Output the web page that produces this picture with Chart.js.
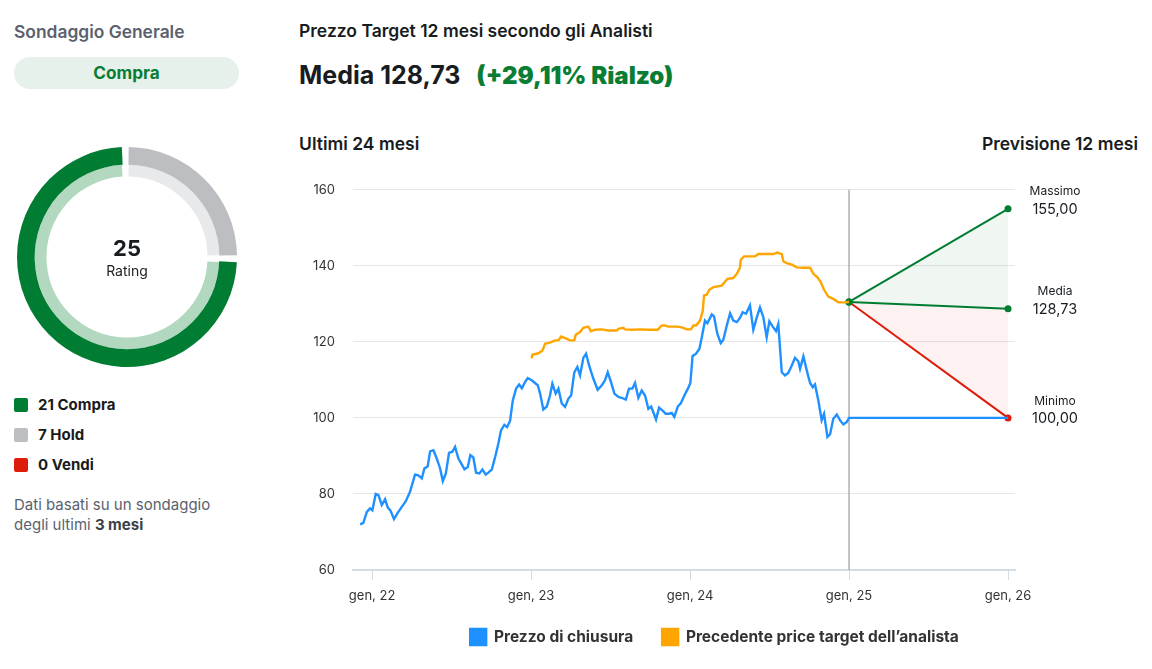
<!DOCTYPE html>
<html lang="it">
<head>
<meta charset="utf-8">
<title>Prezzo Target</title>
<script src="https://cdn.jsdelivr.net/npm/chart.js@4.4.1/dist/chart.umd.min.js"></script>
<style>
  body { margin: 0; background: #fff; font-family: Inter, "Noto Sans", sans-serif; color: #181c21; }
  .abs { position: absolute; white-space: nowrap; }
  .h-left { left: 14px; top: 21px; font-size: 17.4px; font-weight: 600; color: #5b616e; }
  .pill { left: 14px; top: 57px; width: 225px; height: 32px; border-radius: 16px; background: #e5f1ea;
          color: #0a7d35; font-weight: 700; font-size: 17.2px; text-align: center; line-height: 32px; }
  .donut { left: 17px; top: 147px; width: 220px; height: 220px; }
  .center { left: 17px; width: 220px; text-align: center; }
  .leg { left: 14px; font-size: 15px; font-weight: 700; color: #1a1a1a; }
  .leg span { display: inline-block; width: 14px; height: 14px; border-radius: 2px; vertical-align: -2px; margin-right: 10px; }
  .foot { left: 14px; font-size: 15px; color: #5b616e; line-height: 20px; }
  .title { left: 299px; top: 20px; font-size: 17.5px; font-weight: 600; }
  .media { left: 299px; top: 60px; font-size: 25px; font-weight: 700; }
  .media b { color: #0a7d35; margin-left: 10px; font-size: 24px; }
  .sub { top: 133px; font-size: 17.5px; font-weight: 600; }
  .line { left: 290px; top: 164px; width: 860px; height: 501px; }
</style>
</head>
<body>
<div class="abs h-left">Sondaggio Generale</div>
<div class="abs pill">Compra</div>
<div class="abs donut"><canvas id="ratingChart"></canvas></div>
<div class="abs center" style="top:235px;font-size:22px;font-weight:700;">25</div>
<div class="abs center" style="top:262px;font-size:14px;color:#222;">Rating</div>
<div class="abs leg" style="top:395px;"><span style="background:#007d32"></span>21 Compra</div>
<div class="abs leg" style="top:425px;"><span style="background:#bdbec2"></span>7 Hold</div>
<div class="abs leg" style="top:455px;"><span style="background:#dd1c0a"></span>0 Vendi</div>
<div class="abs foot" style="top:495px;">Dati basati su un sondaggio<br>degli ultimi <b style="color:#3b3f47">3 mesi</b></div>

<div class="abs title">Prezzo Target 12 mesi secondo gli Analisti</div>
<div class="abs media">Media 128,73 <b>(+29,11% Rialzo)</b></div>
<div class="abs sub" style="left:299px;">Ultimi 24 mesi</div>
<div class="abs sub" style="right:14px;">Previsione 12 mesi</div>
<div class="abs line"><canvas id="targetChart"></canvas></div>

<script>
// Rating survey
const ratingLabels = ['Compra', 'Hold', 'Vendi'];
const ratingCounts = [21, 7, 0];

// Closing price (x = date as decimal year)
const priceX = [2021.925, 2021.945, 2021.967, 2021.987, 2022.002, 2022.023, 2022.040, 2022.061, 2022.082, 2022.099,
  2022.115, 2022.138, 2022.159, 2022.187, 2022.212, 2022.239, 2022.270, 2022.291, 2022.313, 2022.329,
  2022.350, 2022.365, 2022.386, 2022.407, 2022.428, 2022.445, 2022.464, 2022.484, 2022.505, 2022.522,
  2022.543, 2022.564, 2022.581, 2022.602, 2022.618, 2022.637, 2022.654, 2022.675, 2022.694, 2022.715,
  2022.731, 2022.753, 2022.774, 2022.794, 2022.811, 2022.832, 2022.849, 2022.868, 2022.885, 2022.906,
  2022.925, 2022.942, 2022.962, 2022.979, 2023.004, 2023.042, 2023.057, 2023.077, 2023.099, 2023.119,
  2023.134, 2023.155, 2023.172, 2023.193, 2023.214, 2023.235, 2023.252, 2023.272, 2023.291, 2023.308,
  2023.329, 2023.346, 2023.365, 2023.392, 2023.419, 2023.445, 2023.465, 2023.482, 2023.503, 2023.524,
  2023.549, 2023.570, 2023.596, 2023.616, 2023.637, 2023.654, 2023.675, 2023.696, 2023.717, 2023.738,
  2023.755, 2023.769, 2023.786, 2023.805, 2023.826, 2023.847, 2023.868, 2023.885, 2023.901, 2023.923,
  2023.943, 2023.964, 2023.989, 2024.002, 2024.016, 2024.038, 2024.059, 2024.074, 2024.094, 2024.109,
  2024.137, 2024.151, 2024.172, 2024.193, 2024.209, 2024.231, 2024.252, 2024.272, 2024.294, 2024.314,
  2024.331, 2024.352, 2024.377, 2024.398, 2024.419, 2024.440, 2024.461, 2024.482, 2024.499, 2024.520,
  2024.541, 2024.555, 2024.577, 2024.597, 2024.618, 2024.640, 2024.660, 2024.681, 2024.692, 2024.713,
  2024.734, 2024.755, 2024.772, 2024.786, 2024.807, 2024.828, 2024.843, 2024.864, 2024.881, 2024.901,
  2024.923, 2024.943, 2024.964, 2024.985, 2025.000, 2026.000];
const priceY = [72.0, 72.4, 75.3, 76.2, 75.7, 80.0, 79.7, 77.1, 78.6, 76.4,
  75.7, 73.4, 74.9, 76.6, 78.1, 80.6, 85.1, 84.9, 84.1, 86.7,
  87.3, 91.2, 91.5, 89.3, 86.7, 83.4, 85.4, 90.8, 91.1, 92.4,
  89.3, 87.8, 86.5, 87.1, 90.2, 89.6, 85.6, 85.4, 86.4, 85.1,
  85.6, 86.4, 89.7, 93.2, 96.7, 98.2, 97.6, 99.2, 104.6, 107.7,
  108.8, 107.8, 109.4, 110.5, 109.9, 108.6, 106.4, 102.2, 103.0, 105.9,
  109.0, 106.4, 107.7, 103.8, 102.9, 105.1, 105.9, 112.0, 113.4, 111.2,
  115.8, 116.9, 113.8, 110.3, 107.4, 108.6, 109.9, 112.0, 109.4, 106.4,
  105.5, 105.3, 104.8, 107.7, 107.7, 109.2, 105.3, 107.2, 105.9, 102.4,
  103.0, 101.5, 99.6, 102.7, 102.0, 101.1, 101.1, 101.3, 100.3, 103.0,
  103.9, 105.9, 107.9, 109.2, 116.3, 116.9, 118.2, 121.2, 125.6, 124.9,
  127.2, 126.7, 122.1, 119.7, 120.5, 124.3, 127.5, 125.6, 125.2, 126.3,
  127.8, 127.4, 129.6, 123.2, 126.3, 129.1, 126.5, 121.2, 125.4, 124.0,
  122.8, 124.7, 112.0, 111.2, 111.8, 113.8, 115.8, 114.9, 112.9, 116.2,
  112.5, 109.2, 108.1, 108.8, 104.6, 99.4, 101.1, 95.0, 95.7, 99.8,
  100.9, 99.4, 98.3, 98.9, 100.0, 100.0];

// Previous analyst price target
const targetX = [2023.004, 2023.008, 2023.046, 2023.071, 2023.088, 2023.119, 2023.151, 2023.172, 2023.189, 2023.225,
  2023.245, 2023.272, 2023.281, 2023.308, 2023.329, 2023.360, 2023.377, 2023.403, 2023.445, 2023.486,
  2023.539, 2023.549, 2023.581, 2023.591, 2023.633, 2023.686, 2023.738, 2023.797, 2023.822, 2023.843,
  2023.864, 2023.926, 2023.958, 2023.979, 2024.006, 2024.021, 2024.038, 2024.063, 2024.080, 2024.088,
  2024.105, 2024.121, 2024.147, 2024.199, 2024.235, 2024.272, 2024.294, 2024.314, 2024.319, 2024.340,
  2024.409, 2024.430, 2024.524, 2024.549, 2024.577, 2024.587, 2024.608, 2024.640, 2024.671, 2024.713,
  2024.755, 2024.776, 2024.801, 2024.822, 2024.843, 2024.870, 2024.901, 2024.933, 2024.969, 2025.000];
const targetY = [115.7, 116.6, 117.0, 117.7, 119.5, 119.8, 120.4, 120.4, 121.4, 120.8,
  120.4, 120.4, 121.9, 122.6, 123.7, 124.0, 122.8, 123.2, 123.3, 123.0,
  123.0, 123.4, 123.7, 123.3, 123.2, 123.3, 123.2, 123.2, 124.3, 124.3,
  124.0, 124.0, 123.7, 123.3, 123.3, 124.3, 124.3, 125.6, 128.2, 132.2,
  132.4, 133.7, 134.4, 134.8, 136.6, 136.8, 137.9, 139.5, 141.6, 142.5,
  142.5, 143.1, 143.1, 143.5, 143.1, 141.2, 140.7, 140.3, 139.6, 139.5,
  139.5, 137.9, 137.0, 135.7, 133.7, 131.9, 131.3, 130.4, 130.4, 130.5];

// 12 month forecast
const forecastStart = 2025;
const forecastEnd = 2026;
const forecastFrom = 130.5;
const forecastNames = ['Massimo', 'Media', 'Minimo'];
const forecastValues = [155.00, 128.73, 100.00];
const forecastText = ['155,00', '128,73', '100,00'];

// Axes
const yearTicks = [2022, 2023, 2024, 2025, 2026];
const yearLabels = ['gen, 22', 'gen, 23', 'gen, 24', 'gen, 25', 'gen, 26'];

Chart.defaults.font.family = 'Inter, "Noto Sans", sans-serif';

new Chart(document.getElementById('ratingChart').getContext('2d'), {
  type: 'doughnut',
  data: {
    labels: ratingLabels,
    datasets: [{
      data: ratingCounts,
      backgroundColor: ['#007d32', '#bdbec2', '#dd1c0a'],
      borderWidth: 0,
      weight: 18
    }, {
      data: ratingCounts,
      backgroundColor: ['#b2d8bf', '#e8e9eb', '#f6c4bf'],
      borderWidth: 0,
      weight: 12
    }]
  },
  options: {
    responsive: true,
    maintainAspectRatio: false,
    animation: false,
    rotation: 90,
    cutout: '72.7%',
    spacing: 4,
    plugins: { legend: { display: false }, tooltip: { enabled: false } }
  }
});

const pts = (xs, ys) => xs.map((x, i) => ({ x: x, y: ys[i] }));

// value labels to the right of the forecast end points
const forecastLabels = {
  id: 'forecastLabels',
  afterDraw(chart) {
    const ctx = chart.ctx;
    const xs = chart.scales.x;
    const ys = chart.scales.y;
    const cx = xs.getPixelForValue(forecastEnd) + 47;
    ctx.save();
    ctx.textAlign = 'center';
    ctx.textBaseline = 'middle';
    ctx.fillStyle = '#181c21';
    forecastValues.forEach((v, i) => {
      const py = ys.getPixelForValue(v);
      ctx.font = '12px Inter';
      ctx.fillText(forecastNames[i], cx, py - 17);
      ctx.font = '14.5px Inter';
      ctx.fillText(forecastText[i], cx, py + 1);
    });
    ctx.restore();
  }
};

// legend is centred under the whole panel, not just the plot
const shiftLegend = {
  id: 'shiftLegend',
  afterLayout(chart) {
    const lg = chart.legend;
    lg.left += 62;
    lg.right += 62;
    lg.top -= 10;
    lg.bottom -= 10;
  }
};

const lineBase = { pointRadius: 0, borderWidth: 2.4, tension: 0, fill: false };

new Chart(document.getElementById('targetChart').getContext('2d'), {
  type: 'line',
  data: {
    datasets: [{
      ...lineBase,
      label: 'Prezzo di chiusura',
      data: pts(priceX, priceY),
      borderColor: '#1e90ff',
      backgroundColor: '#1e90ff'
    }, {
      ...lineBase,
      label: 'Precedente price target dell\u2019analista',
      data: pts(targetX, targetY),
      borderColor: '#ffa500',
      backgroundColor: '#ffa500'
    }, {
      label: 'Massimo',
      data: [{ x: forecastStart, y: forecastFrom }, { x: forecastEnd, y: forecastValues[0] }],
      borderColor: '#007d32',
      backgroundColor: 'rgba(0, 125, 50, 0.06)',
      pointBackgroundColor: '#007d32',
      pointRadius: 3.5,
      pointBorderWidth: 0,
      borderWidth: 2,
      fill: '+1'
    }, {
      label: 'Media',
      data: [{ x: forecastStart, y: forecastFrom }, { x: forecastEnd, y: forecastValues[1] }],
      borderColor: '#007d32',
      backgroundColor: '#007d32',
      pointBackgroundColor: '#007d32',
      pointRadius: 3.5,
      pointBorderWidth: 0,
      borderWidth: 2,
      fill: false
    }, {
      label: 'Minimo',
      data: [{ x: forecastStart, y: forecastFrom }, { x: forecastEnd, y: forecastValues[2] }],
      borderColor: '#dd1c0a',
      backgroundColor: 'rgba(221, 28, 10, 0.06)',
      pointBackgroundColor: ['#007d32', '#dd1c0a'],
      pointRadius: 3.5,
      pointBorderWidth: 0,
      borderWidth: 2,
      fill: '-1'
    }, {
      label: 'today',
      data: [{ x: forecastStart, y: 60 }, { x: forecastStart, y: 160.5 }],
      borderColor: '#8a8a8a',
      borderWidth: 1,
      pointRadius: 0,
      fill: false,
      order: 10
    }]
  },
  options: {
    responsive: true,
    maintainAspectRatio: false,
    animation: false,
    layout: { padding: { top: 0, right: 135, left: 0, bottom: 0 } },
    scales: {
      x: {
        type: 'linear',
        min: 2021.88,
        max: 2026.044,
        afterBuildTicks: (scale) => { scale.ticks = yearTicks.map(v => ({ value: v })); },
        afterFit: (scale) => { scale.height = 40; },
        ticks: {
          color: '#333',
          font: { size: 13 },
          padding: 8,
          maxRotation: 0,
          callback: (v) => yearLabels[yearTicks.indexOf(v)]
        },
        grid: { drawOnChartArea: false, drawTicks: true, tickLength: 10, color: '#d6dce6' },
        border: { color: '#d6dce6', width: 2 }
      },
      y: {
        min: 60,
        max: 160,
        afterFit: (scale) => { scale.width = 63; },
        ticks: { stepSize: 20, color: '#333', font: { size: 13 }, padding: 18 },
        grid: { color: '#e6e6e6', drawTicks: false },
        border: { display: false }
      }
    },
    plugins: {
      tooltip: { enabled: false },
      legend: {
        position: 'bottom',
        labels: {
          color: '#333',
          font: { size: 15.5, weight: 'bold' },
          boxWidth: 16,
          boxHeight: 16,
          padding: 29,
          filter: (item) => item.datasetIndex < 2
        }
      }
    }
  },
  plugins: [forecastLabels, shiftLegend]
});
</script>
</body>
</html>
